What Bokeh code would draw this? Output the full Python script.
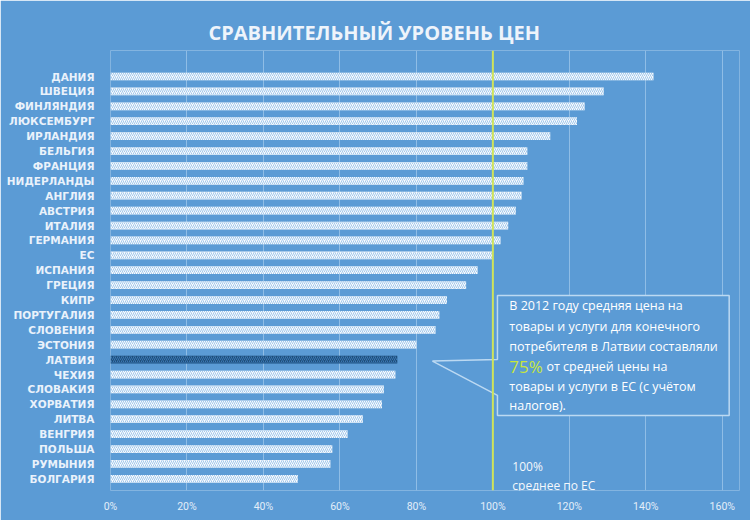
from bokeh.plotting import figure
from bokeh.models import Range1d, FixedTicker, PrintfTickFormatter, Span, ColumnDataSource
from bokeh.core.properties import value
from bokeh.embed import file_html
from bokeh.resources import INLINE

countries = ["ДАНИЯ", "ШВЕЦИЯ", "ФИНЛЯНДИЯ", "ЛЮКСЕМБУРГ", "ИРЛАНДИЯ", "БЕЛЬГИЯ",
             "ФРАНЦИЯ", "НИДЕРЛАНДЫ", "АНГЛИЯ", "АВСТРИЯ", "ИТАЛИЯ", "ГЕРМАНИЯ",
             "ЕС", "ИСПАНИЯ", "ГРЕЦИЯ", "КИПР", "ПОРТУГАЛИЯ", "СЛОВЕНИЯ", "ЭСТОНИЯ",
             "ЛАТВИЯ", "ЧЕХИЯ", "СЛОВАКИЯ", "ХОРВАТИЯ", "ЛИТВА", "ВЕНГРИЯ",
             "ПОЛЬША", "РУМЫНИЯ", "БОЛГАРИЯ"]
price_level = [142, 129, 124, 122, 115, 109, 109, 108, 107.5, 106, 104, 102,
               100, 96, 93, 88, 86, 85, 80, 75, 74.5, 71.5, 71, 66, 62, 58, 57.5, 49]
highlight = "ЛАТВИЯ"
x_ticks = [0, 20, 40, 60, 80, 100, 120, 140, 160]
eu_average = 100

title_text = "СРАВНИТЕЛЬНЫЙ УРОВЕНЬ ЦЕН"
note_lines = ["В 2012 году средняя цена на",
              "товары и услуги для конечного",
              "потребителя в Латвии составляли",
              "",
              "товары и услуги  в ЕС (с учётом",
              "налогов)."]
note_value = "75%"
note_value_rest = "от средней цены на"
avg_lines = ["100%", "среднее по ЕС"]

BG = "#5b9bd5"
LABEL = "#eaf2fb"

n = len(countries)
p = figure(width=750, height=520, output_backend="svg", toolbar_location=None,
           x_range=Range1d(0, 164.5), y_range=Range1d(27.785, -1.745),
           min_border_left=110, min_border_right=11, min_border_top=50,
           min_border_bottom=30, title=title_text)
p.background_fill_color = BG
p.border_fill_color = BG
p.outline_line_color = None

p.title.align = "left"
p.title.offset = 98
p.title.text_font = "Open Sans"
p.title.text_font_size = "20px"
p.title.text_font_style = "bold"
p.title.text_color = "#eef4fb"

fills = ["#1f4e79" if c == highlight else "#f7fafd" for c in countries]
hatches = ["#3a78b5" if c == highlight else "#a3c9ec" for c in countries]
src = ColumnDataSource(dict(y=list(range(n)), right=price_level, fill=fills, hatch=hatches))
p.hbar(y="y", left=0, right="right", height=0.52, source=src,
       fill_color="fill", line_color=None,
       hatch_pattern="/", hatch_color="hatch", hatch_scale=4, hatch_weight=1)

# y axis labels
p.yaxis.ticker = FixedTicker(ticks=list(range(n)))
p.yaxis.major_label_overrides = {i: c for i, c in enumerate(countries)}
p.yaxis.axis_line_color = None
p.yaxis.major_tick_line_color = None
p.yaxis.minor_tick_line_color = None
p.yaxis.major_label_standoff = 10
p.yaxis.major_label_text_font = "DejaVu Sans"
p.yaxis.major_label_text_font_style = "bold"
p.yaxis.major_label_text_font_size = "10.5px"
p.yaxis.major_label_text_color = LABEL

# x axis
p.xaxis.ticker = FixedTicker(ticks=x_ticks)
p.xaxis.formatter = PrintfTickFormatter(format="%d%%")
p.xaxis.axis_line_color = None
p.xaxis.major_tick_line_color = None
p.xaxis.minor_tick_line_color = None
p.xaxis.major_label_standoff = 3
p.xaxis.major_label_text_font = "Roboto"
p.xaxis.major_label_text_font_size = "10.5px"
p.xaxis.major_label_text_color = "#e3eef9"

p.ygrid.grid_line_color = None
p.xgrid.ticker = FixedTicker(ticks=x_ticks)
p.xgrid.grid_line_color = "#8fbde6"
p.xgrid.grid_line_width = 1

p.add_layout(Span(location=eu_average, dimension="height", line_color="#cfe35a", line_width=2))

# callout box
bx0, bx1, by0, by1 = 101.2, 161.8, 14.7, 22.75
p.patch([bx0, bx1, bx1, bx0, bx0, 84.2, bx0],
        [by0, by0, by1, by1, 21.4, 19.1, 19.0],
        fill_color=BG, line_color="#bcd9f2", line_width=1.5)

ly = [15.37, 16.78, 18.12, 19.46, 20.8, 22.08]
txt_lines = [t for t in note_lines if t]
txt_y = [y for t, y in zip(note_lines, ly) if t]
p.text(x=[104.3] * len(txt_lines), y=txt_y, text=txt_lines,
       text_font=value("Open Sans"), text_font_size="12.5px", text_color="#ffffff",
       text_baseline="middle", text_align="left")
p.text(x=[104.3], y=[ly[3]], text=[note_value], text_font=value("Open Sans"),
       text_font_size="17px", text_color="#c8e63c", text_baseline="middle", text_align="left")
p.text(x=[114.0], y=[ly[3]], text=[note_value_rest], text_font=value("Open Sans"),
       text_font_size="12.5px", text_color="#ffffff", text_baseline="middle", text_align="left")

p.text(x=[105.1, 105.1], y=[26.17, 27.45], text=avg_lines, text_font=value("Open Sans"),
       text_font_size="12px", text_color="#f4f8fc", text_baseline="middle", text_align="left")

open("out.html", "w").write(file_html(p, INLINE))
